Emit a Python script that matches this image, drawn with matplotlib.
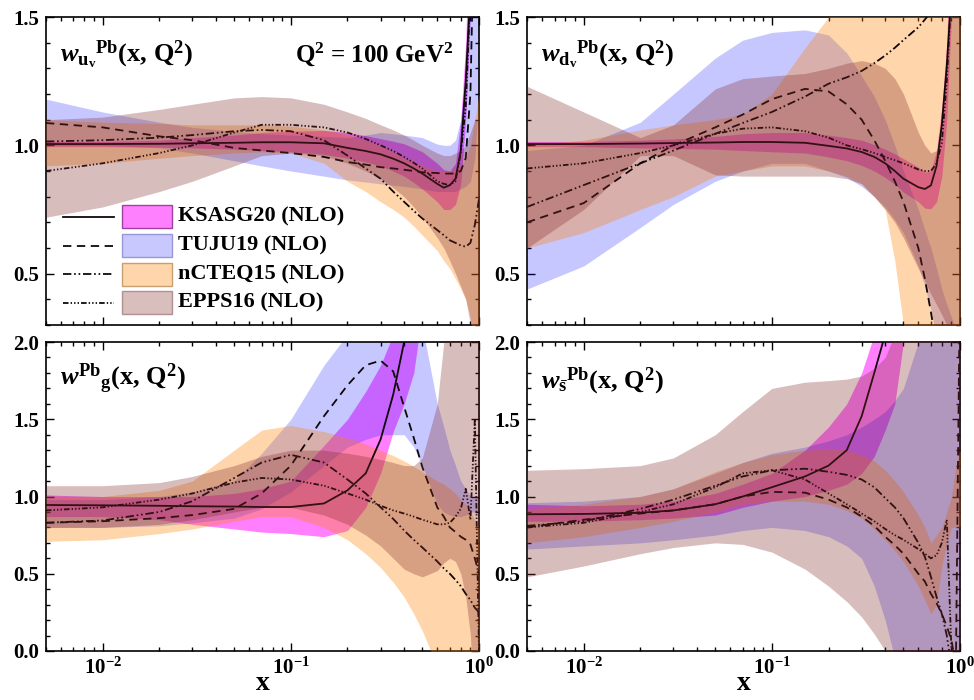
import numpy as np
import matplotlib
matplotlib.use("Agg")
import matplotlib.pyplot as plt
from matplotlib.patches import Rectangle
from matplotlib.lines import Line2D
from matplotlib.ticker import (LogLocator, NullFormatter, MultipleLocator,
                               FormatStrFormatter)

# ── Nuclear modification ratios for Pb at Q^2 = 100 GeV^2 ─────────────────
X = [0.005, 0.01, 0.02, 0.03, 0.05, 0.07, 0.1, 0.15, 0.2, 0.25, 0.3, 0.35,
     0.4, 0.45, 0.5, 0.6, 0.65, 0.7, 0.75, 0.8, 0.85, 0.9, 0.95, 1.0]

SETS = ["KSASG20 (NLO)", "TUJU19 (NLO)", "nCTEQ15 (NLO)", "EPPS16 (NLO)"]

# u-valence
uv_ksasg    = [1.005, 1.005, 1.006, 1.008, 1.01, 1.012, 1.012, 1.008, 0.99, 0.978, 0.965, 0.948, 0.93, 0.91, 0.89, 0.85, 0.835, 0.845, 0.87, 0.98, 1.25, 1.6, 2.0, 2.0]
uv_ksasg_lo = [0.995, 0.995, 0.993, 0.99, 0.985, 0.98, 0.975, 0.965, 0.95, 0.935, 0.92, 0.9, 0.88, 0.855, 0.83, 0.78, 0.75, 0.75, 0.77, 0.85, 1.1, 1.5, 2.0, 2.0]
uv_ksasg_hi = [1.015, 1.015, 1.02, 1.03, 1.04, 1.05, 1.055, 1.058, 1.05, 1.038, 1.026, 1.016, 1.006, 0.99, 0.975, 0.93, 0.905, 0.9, 0.93, 1.1, 1.4, 2.0, 2.0, 2.0]
uv_tuju     = [1.087, 1.07, 1.035, 1.02, 0.99, 0.98, 0.97, 0.955, 0.935, 0.925, 0.915, 0.91, 0.905, 0.9, 0.895, 0.892, 0.89, 0.89, 0.89, 0.9, 0.95, 1.2, 2.0, 2.0]
uv_tuju_lo  = [1.0, 1.0, 0.99, 0.97, 0.94, 0.92, 0.9, 0.88, 0.865, 0.857, 0.85, 0.845, 0.84, 0.835, 0.83, 0.82, 0.82, 0.82, 0.82, 0.83, 0.84, 0.86, 0.95, 1.2]
uv_tuju_hi  = [1.18, 1.13, 1.09, 1.07, 1.055, 1.045, 1.04, 1.035, 1.03, 1.04, 1.05, 1.045, 1.04, 1.035, 1.03, 1.005, 1.0, 1.0, 1.02, 1.1, 1.3, 2.0, 2.0, 2.0]
uv_ncteq    = [1.015, 1.02, 1.03, 1.04, 1.055, 1.06, 1.055, 1.02, 0.96, 0.91, 0.87, 0.82, 0.78, 0.745, 0.715, 0.67, 0.65, 0.63, 0.62, 0.61, 0.605, 0.62, 0.69, 0.79]
uv_ncteq_lo = [0.92, 0.93, 0.95, 0.96, 0.97, 0.975, 0.97, 0.93, 0.86, 0.82, 0.78, 0.75, 0.72, 0.685, 0.65, 0.59, 0.55, 0.52, 0.48, 0.44, 0.4, 0.33, 0.2, 0.1]
uv_ncteq_hi = [1.1, 1.09, 1.085, 1.08, 1.08, 1.08, 1.075, 1.06, 1.04, 1.02, 1.0, 0.975, 0.95, 0.935, 0.92, 0.9, 0.9, 0.9, 0.91, 0.92, 0.95, 1.0, 1.1, 1.2]
uv_epps     = [0.9, 0.93, 0.97, 1.0, 1.05, 1.08, 1.08, 1.07, 1.05, 1.025, 1.0, 0.978, 0.955, 0.932, 0.91, 0.86, 0.85, 0.845, 0.86, 0.97, 1.15, 1.6, 2.0, 2.0]
uv_epps_lo  = [0.72, 0.76, 0.82, 0.86, 0.92, 0.96, 0.97, 0.96, 0.93, 0.9, 0.87, 0.835, 0.8, 0.76, 0.72, 0.64, 0.6, 0.55, 0.5, 0.45, 0.4, 0.3, 0.2, 0.1]
uv_epps_hi  = [1.1, 1.11, 1.14, 1.16, 1.185, 1.19, 1.185, 1.16, 1.13, 1.105, 1.08, 1.06, 1.04, 1.02, 1.0, 0.97, 0.96, 0.96, 0.97, 0.98, 1.0, 1.05, 1.1, 1.1]

# d-valence
dv_ksasg    = [1.005, 1.005, 1.007, 1.009, 1.011, 1.013, 1.013, 1.01, 0.998, 0.988, 0.974, 0.955, 0.93, 0.9, 0.87, 0.837, 0.83, 0.844, 0.92, 1.08, 1.31, 1.6, 2.0, 2.0]
dv_ksasg_lo = [0.995, 0.995, 0.99, 0.988, 0.985, 0.98, 0.975, 0.97, 0.955, 0.94, 0.922, 0.9, 0.875, 0.848, 0.818, 0.78, 0.755, 0.753, 0.78, 0.88, 1.1, 1.5, 2.0, 2.0]
dv_ksasg_hi = [1.015, 1.015, 1.02, 1.025, 1.035, 1.045, 1.05, 1.05, 1.04, 1.03, 1.02, 1.003, 0.985, 0.967, 0.948, 0.915, 0.896, 0.9, 0.98, 1.15, 1.4, 2.0, 2.0, 2.0]
dv_tuju     = [0.7, 0.775, 0.93, 1.0, 1.07, 1.12, 1.18, 1.22, 1.21, 1.16, 1.1, 1.02, 0.94, 0.86, 0.78, 0.6, 0.48, 0.35, 0.22, 0.1, 0.0, -0.2, -0.5, -0.5]
dv_tuju_lo  = [0.44, 0.53, 0.68, 0.77, 0.86, 0.9, 0.93, 0.93, 0.9, 0.875, 0.84, 0.8, 0.76, 0.71, 0.66, 0.53, 0.45, 0.36, 0.25, 0.1, 0.0, -0.2, -0.5, -0.5]
dv_tuju_hi  = [0.98, 1.0, 1.09, 1.2, 1.34, 1.41, 1.44, 1.45, 1.43, 1.36, 1.27, 1.19, 1.1, 1.0, 0.9, 0.75, 0.67, 0.6, 0.52, 0.44, 0.38, 0.33, 0.28, 0.25]
dv_ncteq    = [0.76, 0.845, 0.93, 0.98, 1.045, 1.087, 1.13, 1.19, 1.24, 1.265, 1.29, 1.32, 1.35, 1.38, 1.41, 1.46, 1.49, 1.52, 1.55, 1.58, 1.62, 1.66, 1.7, 1.75]
dv_ncteq_lo = [0.6, 0.66, 0.75, 0.8, 0.88, 0.9, 0.92, 0.92, 0.9, 0.88, 0.85, 0.8, 0.75, 0.55, 0.3, 0.0, -0.5, -0.5, -0.5, -0.5, -0.5, -0.5, -0.5, -0.5]
dv_ncteq_hi = [1.0, 1.02, 1.06, 1.08, 1.1, 1.12, 1.2, 1.38, 1.5, 1.65, 1.8, 1.9, 2.0, 2.0, 2.0, 2.0, 2.0, 2.0, 2.0, 2.0, 2.0, 2.0, 2.0, 2.0]
dv_epps     = [0.91, 0.93, 0.97, 1.0, 1.045, 1.065, 1.07, 1.055, 1.03, 1.0, 0.985, 0.97, 0.955, 0.942, 0.93, 0.906, 0.9, 0.9, 0.93, 1.01, 1.25, 1.6, 2.0, 2.0]
dv_epps_lo  = [0.6, 0.75, 0.96, 0.96, 0.885, 0.88, 0.88, 0.88, 0.88, 0.87, 0.85, 0.8, 0.75, 0.7, 0.64, 0.52, 0.47, 0.42, 0.38, 0.34, 0.3, 0.25, 0.2, 0.1]
dv_epps_hi  = [1.23, 1.13, 1.03, 1.08, 1.22, 1.26, 1.27, 1.28, 1.3, 1.32, 1.33, 1.32, 1.3, 1.26, 1.2, 1.05, 1.0, 0.97, 0.98, 1.05, 1.3, 1.6, 2.0, 2.0]

# gluon
g_ksasg     = [0.945, 0.943, 0.94, 0.937, 0.935, 0.932, 0.932, 0.955, 1.04, 1.15, 1.37, 1.66, 2.0, 2.3, 2.6, 3.0, 3.0, 3.0, 3.0, 3.0, 3.0, 3.0, 3.0, 3.0]
g_ksasg_lo  = [0.87, 0.87, 0.85, 0.82, 0.79, 0.77, 0.76, 0.74, 0.78, 0.93, 1.15, 1.42, 1.6, 1.8, 2.2, 3.0, 3.0, 3.0, 3.0, 3.0, 3.0, 3.0, 3.0, 3.0]
g_ksasg_hi  = [1.01, 1.0, 1.0, 1.0, 1.02, 1.05, 1.1, 1.33, 1.5, 1.68, 1.85, 2.05, 2.3, 2.6, 3.0, 3.0, 3.0, 3.0, 3.0, 3.0, 3.0, 3.0, 3.0, 3.0]
g_tuju      = [0.83, 0.84, 0.86, 0.88, 0.92, 1.02, 1.2, 1.52, 1.72, 1.85, 1.88, 1.81, 1.58, 1.38, 1.19, 0.93, 0.87, 0.8, 0.77, 0.74, 0.72, 0.69, 0.6, 0.5]
g_tuju_lo   = [0.8, 0.8, 0.81, 0.83, 0.86, 0.92, 1.03, 1.2, 1.32, 1.37, 1.4, 1.4, 1.4, 1.32, 1.2, 0.95, 0.9, 0.88, 0.87, 0.87, 0.88, 0.9, 0.9, 0.9]
g_tuju_hi   = [0.98, 0.98, 1.0, 1.03, 1.1, 1.28, 1.5, 1.85, 2.05, 2.3, 2.5, 2.5, 2.5, 2.3, 2.1, 1.6, 1.45, 1.3, 1.2, 1.1, 1.05, 1.0, 1.0, 1.0]
g_ncteq     = [0.83, 0.845, 0.9, 0.97, 1.12, 1.22, 1.27, 1.22, 1.11, 1.02, 0.93, 0.855, 0.78, 0.72, 0.67, 0.58, 0.535, 0.5, 0.46, 0.42, 0.37, 0.33, 0.28, 0.25]
g_ncteq_lo  = [0.71, 0.72, 0.76, 0.79, 0.84, 0.87, 0.87, 0.8, 0.72, 0.63, 0.54, 0.445, 0.35, 0.24, 0.13, -0.1, -0.2, -0.3, -0.3, -0.3, -0.3, -0.3, -0.3, -0.3]
g_ncteq_hi  = [1.0, 1.0, 1.04, 1.1, 1.3, 1.43, 1.46, 1.42, 1.38, 1.34, 1.3, 1.265, 1.23, 1.195, 1.16, 1.1, 1.08, 1.05, 1.02, 0.98, 0.95, 0.9, 0.85, 0.8]
g_epps      = [0.91, 0.93, 0.98, 1.02, 1.09, 1.12, 1.11, 1.07, 1.02, 0.98, 0.94, 0.91, 0.89, 0.87, 0.85, 0.82, 0.82, 0.83, 0.87, 0.92, 1.05, 0.85, 1.5, 0.0]
g_epps_lo   = [0.8, 0.8, 0.82, 0.85, 0.9, 0.93, 0.93, 0.88, 0.82, 0.75, 0.68, 0.6, 0.53, 0.5, 0.48, 0.52, 0.57, 0.6, 0.58, 0.5, 0.35, 0.1, -0.5, -0.5]
g_epps_hi   = [1.07, 1.07, 1.09, 1.13, 1.2, 1.26, 1.3, 1.3, 1.28, 1.26, 1.24, 1.22, 1.2, 1.2, 1.25, 1.6, 2.0, 2.5, 3.0, 3.0, 3.0, 3.0, 3.0, 3.0]

# strange
s_ksasg     = [0.885, 0.887, 0.895, 0.91, 0.95, 1.0, 1.06, 1.13, 1.2, 1.3, 1.52, 1.8, 2.05, 2.5, 2.8, 3.0, 3.0, 3.0, 3.0, 3.0, 3.0, 3.0, 3.0, 3.0]
s_ksasg_lo  = [0.84, 0.84, 0.85, 0.86, 0.88, 0.93, 0.97, 1.0, 1.04, 1.08, 1.15, 1.26, 1.43, 1.6, 2.0, 3.0, 3.0, 3.0, 3.0, 3.0, 3.0, 3.0, 3.0, 3.0]
s_ksasg_hi  = [0.95, 0.94, 0.95, 0.97, 1.02, 1.08, 1.15, 1.3, 1.45, 1.6, 1.8, 2.05, 2.3, 2.6, 3.0, 3.0, 3.0, 3.0, 3.0, 3.0, 3.0, 3.0, 3.0, 3.0]
s_tuju      = [0.8, 0.85, 0.89, 0.91, 0.95, 1.0, 1.03, 1.025, 0.98, 0.93, 0.87, 0.81, 0.74, 0.685, 0.63, 0.5, 0.45, 0.37, 0.31, 0.24, 0.16, 0.07, -0.1, 2.5]
s_tuju_lo   = [0.66, 0.68, 0.7, 0.72, 0.75, 0.78, 0.8, 0.78, 0.74, 0.68, 0.6, 0.42, 0.2, -0.05, -0.3, -1.0, -1.0, -1.0, -1.0, -1.0, -1.0, -1.0, -1.0, -1.0]
s_tuju_hi   = [0.96, 0.97, 1.0, 1.05, 1.15, 1.22, 1.28, 1.32, 1.36, 1.4, 1.45, 1.5, 1.55, 1.62, 1.7, 2.0, 2.2, 2.5, 3.0, 3.0, 3.0, 3.0, 3.0, 3.0]
s_ncteq     = [0.81, 0.84, 0.92, 0.98, 1.07, 1.13, 1.17, 1.18, 1.16, 1.14, 1.11, 1.06, 0.99, 0.93, 0.86, 0.7, 0.61, 0.48, 0.35, 0.24, 0.1, -0.1, -0.3, -0.3]
s_ncteq_lo  = [0.7, 0.74, 0.8, 0.84, 0.9, 0.95, 0.97, 0.97, 0.95, 0.91, 0.86, 0.79, 0.72, 0.65, 0.58, 0.42, 0.33, 0.24, 0.3, 0.55, 0.7, 0.8, 0.8, 0.8]
s_ncteq_hi  = [0.92, 0.95, 1.0, 1.05, 1.16, 1.22, 1.27, 1.3, 1.31, 1.3, 1.27, 1.23, 1.17, 1.1, 1.03, 0.88, 0.8, 0.7, 0.75, 0.8, 0.9, 1.0, 1.2, 1.3]
s_epps      = [0.8, 0.83, 0.9, 0.95, 1.06, 1.15, 1.17, 1.11, 1.02, 0.95, 0.89, 0.84, 0.79, 0.75, 0.72, 0.66, 0.63, 0.6, 0.62, 0.7, 0.85, 0.0, -0.5, -0.5]
s_epps_lo   = [0.48, 0.55, 0.63, 0.67, 0.7, 0.69, 0.64, 0.53, 0.42, 0.32, 0.22, 0.11, 0.0, -0.15, -0.3, -0.5, -0.5, -0.5, -0.5, -0.5, -0.5, -0.5, -0.5, -0.5]
s_epps_hi   = [1.17, 1.18, 1.2, 1.25, 1.4, 1.55, 1.7, 1.74, 1.75, 1.76, 1.78, 1.83, 1.9, 2.05, 2.2, 2.6, 3.0, 3.0, 3.0, 3.0, 3.0, 3.0, 3.0, 3.0]

# ── Style ─────────────────────────────────────────────────────────────────
plt.rcParams["font.family"] = ["Liberation Serif", "DejaVu Serif"]
plt.rcParams["font.weight"] = "bold"
plt.rcParams["mathtext.fontset"] = "custom"
plt.rcParams["mathtext.rm"] = "Liberation Serif:bold"
plt.rcParams["mathtext.it"] = "Liberation Serif:italic:bold"
plt.rcParams["mathtext.bf"] = "Liberation Serif:bold"
plt.rcParams["lines.scale_dashes"] = False

FILLS  = [(1.0, 0.0, 1.0, 0.5), (0.0, 0.0, 1.0, 0.22),
          (1.0, 0.5, 0.0, 0.33), (0.5, 0.15, 0.15, 0.3)]
SWATCH = ["#ff80ff", "#c8c8ff", "#ffd5ab", "#d9bebe"]
EDGES  = ["#a040a0", "#9898d8", "#c8a070", "#b09090"]
STYLES = ["-", (0, (6, 4)), (0, (6, 2, 1.2, 2, 1.2, 2)),
          (0, (4, 1.5, 1, 1.5, 1, 1.5, 1, 1.5))]
FILL_Z = [1, 2, 3, 5]          # EPPS band sits over the central lines
LINE_COLOR = "#100808"


def style_axes(ax, ylim, xlabels):
    ax.set_xscale("log")
    ax.set_xlim(0.005, 1.0)
    ax.set_ylim(*ylim)
    ax.xaxis.set_major_locator(LogLocator(base=10))
    ax.xaxis.set_minor_locator(LogLocator(base=10, subs=np.arange(2, 10)))
    ax.xaxis.set_minor_formatter(NullFormatter())
    ax.yaxis.set_major_locator(MultipleLocator(0.5))
    ax.yaxis.set_minor_locator(MultipleLocator(0.1))
    ax.yaxis.set_major_formatter(FormatStrFormatter("%.1f"))
    ax.tick_params(which="both", direction="in", top=True, right=True,
                   width=1.0, colors="black")
    ax.tick_params(which="major", length=6, labelsize=15, pad=5)
    ax.tick_params(which="minor", length=3)
    ax.tick_params(axis="x", labelbottom=xlabels)
    for sp in ax.spines.values():
        sp.set_linewidth(1.2)
    if xlabels:
        ax.set_xlabel("x", fontsize=20, fontweight="bold", labelpad=-6)


def draw_sets(ax, bands):
    for (lo, mid, hi), fc, z, ls in zip(bands, FILLS, FILL_Z, STYLES):
        ax.fill_between(X, lo, hi, color=fc, lw=0, zorder=z)
        ax.plot(X, mid, color=LINE_COLOR, ls=ls, lw=1.3, zorder=4)


fig = plt.figure(figsize=(9.74, 7.0), dpi=100)
W, H_TOP, H_BOT = 0.4446, 0.44, 0.4414
ax_uv = fig.add_axes([0.0472, 0.5357, W, H_TOP])
ax_dv = fig.add_axes([0.5411, 0.5357, W, H_TOP])
ax_g  = fig.add_axes([0.0472, 0.0700, W, H_BOT])
ax_s  = fig.add_axes([0.5411, 0.0700, W, H_BOT])

panels = [
    (ax_uv, [(uv_ksasg_lo, uv_ksasg, uv_ksasg_hi), (uv_tuju_lo, uv_tuju, uv_tuju_hi),
             (uv_ncteq_lo, uv_ncteq, uv_ncteq_hi), (uv_epps_lo, uv_epps, uv_epps_hi)],
     (0.3, 1.5), False,
     r"$w_{\mathrm{u}_{\mathrm{v}}}{}^{\mathrm{Pb}}$(x, Q$^{2}$)", 0.855),
    (ax_dv, [(dv_ksasg_lo, dv_ksasg, dv_ksasg_hi), (dv_tuju_lo, dv_tuju, dv_tuju_hi),
             (dv_ncteq_lo, dv_ncteq, dv_ncteq_hi), (dv_epps_lo, dv_epps, dv_epps_hi)],
     (0.3, 1.5), False,
     r"$w_{\mathrm{d}_{\mathrm{v}}}{}^{\mathrm{Pb}}$(x, Q$^{2}$)", 0.855),
    (ax_g, [(g_ksasg_lo, g_ksasg, g_ksasg_hi), (g_tuju_lo, g_tuju, g_tuju_hi),
            (g_ncteq_lo, g_ncteq, g_ncteq_hi), (g_epps_lo, g_epps, g_epps_hi)],
     (0.0, 2.0), True,
     r"$w^{\mathrm{Pb}}{}_{\mathrm{g}}$(x, Q$^{2}$)", 0.86),
    (ax_s, [(s_ksasg_lo, s_ksasg, s_ksasg_hi), (s_tuju_lo, s_tuju, s_tuju_hi),
            (s_ncteq_lo, s_ncteq, s_ncteq_hi), (s_epps_lo, s_epps, s_epps_hi)],
     (0.0, 2.0), True,
     r"$w_{\bar{\mathrm{s}}}{}^{\mathrm{Pb}}$(x, Q$^{2}$)", 0.85),
]

for ax, bands, ylim, xlabels, label, ly in panels:
    draw_sets(ax, bands)
    style_axes(ax, ylim, xlabels)
    ax.text(0.033, ly, label, transform=ax.transAxes, fontsize=19,
            va="baseline", ha="left", zorder=20)

ax_uv.text(0.94, 0.855, r"Q$^{2}$ = 100 GeV$^{2}$", transform=ax_uv.transAxes,
           fontsize=18, ha="right", va="baseline", zorder=20)

# legend: line sample, shaded swatch, name
rows_y = [0.352, 0.258, 0.164, 0.073]
for name, ls, sw, ec, yy in zip(SETS, STYLES, SWATCH, EDGES, rows_y):
    ax_uv.add_line(Line2D([0.039, 0.157], [yy, yy], transform=ax_uv.transAxes,
                          color=LINE_COLOR, ls=ls, lw=1.3, zorder=21))
    ax_uv.add_patch(Rectangle((0.176, yy - 0.037), 0.115, 0.074,
                              transform=ax_uv.transAxes, facecolor=sw,
                              edgecolor=ec, lw=1.0, zorder=21))
    ax_uv.text(0.305, yy, name, transform=ax_uv.transAxes, fontsize=16,
               va="center", ha="left", zorder=21)

fig.savefig("out.png", dpi=100)
